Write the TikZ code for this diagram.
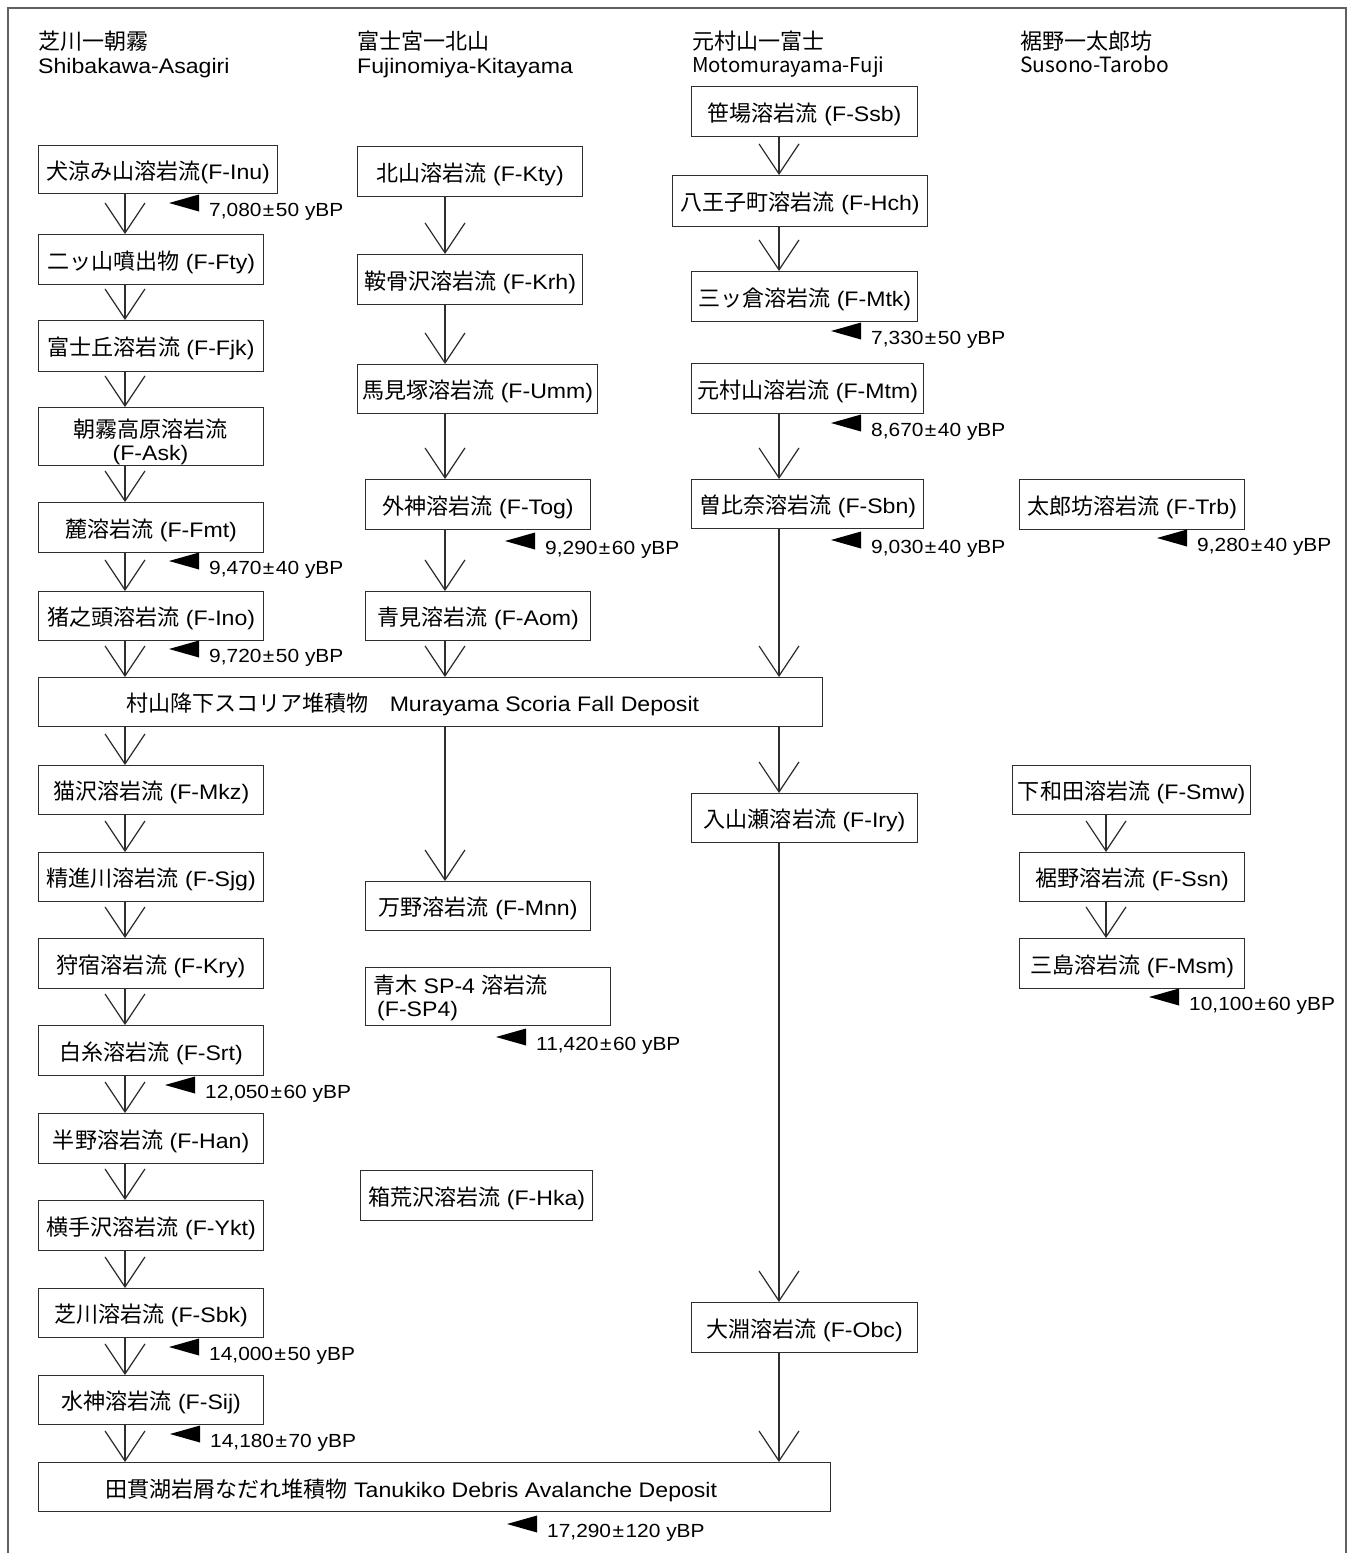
\documentclass[tikz,border=0pt]{standalone}
\usepackage{fontspec}
\setmainfont{Liberation Sans}[FakeStretch=1.1]
\newfontfamily\jp{Noto Sans CJK JP}[Scale=1.05]
\newfontfamily\jpl{Noto Sans CJK JP}
\usetikzlibrary{arrows.meta}
\newcommand\J[1]{{\jp #1}}
\newcommand\pmx{\kern1.5pt±\kern1.5pt}
\definecolor{linec}{HTML}{2E2E2E}
\definecolor{framec}{HTML}{606060}
\newcommand\dt[4]{%
  \node[dtxt] (#1) at (#2,#3) {#4};
  \fill[black] ([xshift=-40pt,yshift=6pt]#1.west) -- ++(30,-8.5) -- ++(0,17) -- cycle;}
\begin{document}
\begin{tikzpicture}[x=1pt,y=-1pt,
  boxbase/.style={draw=linec, line width=1.2pt, inner sep=0pt, anchor=north west,
    font=\fontsize{21}{23}\selectfont},
  bx/.style 2 args={boxbase, minimum width=#1, minimum height=#2, text height=19pt, text depth=0pt},
  bxtwo/.style 2 args={boxbase, minimum width=#1, minimum height=#2},
  lbl/.style={inner sep=0pt, anchor=west, font=\fontsize{21}{23}\selectfont, text height=19pt, text depth=0pt},
  mtxt/.style={inner sep=0pt, font=\fontsize{21}{23}\selectfont},
  hdr/.style={inner sep=0pt, anchor=west, font=\fontsize{21}{23}\selectfont, text height=19pt, text depth=0pt},
  dtxt/.style={inner sep=0pt, anchor=west, font=\fontsize{19}{21}\selectfont, text height=16pt, text depth=2pt},
  arr/.style={draw=linec, line width=1.2pt, -{Straight Barb[length=30pt,width=40pt,line width=1.2pt]}}
]
\useasboundingbox (0,0) rectangle (1352,1553);
\draw[framec, line width=1.5pt] (8,1553) -- (8,8) -- (1346,8) -- (1346,1553);

% column axes
\coordinate (c1) at (125,0);
\coordinate (c2) at (445,0);
\coordinate (c3) at (779,0);
\coordinate (c4) at (1106,0);

% headers
\node[hdr] (h1a) at (38,40) {\J{芝川一朝霧}};
\node[hdr] (h1b) at (38,64) {Shibakawa-Asagiri};
\node[hdr] (h2a) at (357,40) {\J{富士宮一北山}};
\node[hdr] (h2b) at (357,64) {Fujinomiya-Kitayama};
\node[hdr] (h3a) at (692,40) {\J{元村山一富士}};
\node[hdr, font=\fontsize{20.4}{23}\selectfont] (h3b) at (692,63) {\jpl Motomurayama-Fuji};
\node[hdr] (h4a) at (1020,40) {\J{裾野一太郎坊}};
\node[hdr] (h4b) at (1020,63) {\jpl Susono-Tarobo};

% column 1
\node[bx={239}{48}] (inu) at (38,145) {\J{犬涼み山溶岩流}(F-Inu)};
\node[bx={225}{50}] (fty) at (38,234) {\J{二ッ山噴出物} (F-Fty)};
\node[bx={225}{51}] (fjk) at (38,320) {\J{富士丘溶岩流} (F-Fjk)};
\node[bxtwo={225}{58}] (ask) at (38,407) {};
\node[mtxt, align=center] (askt) at (150.5,442) {\J{朝霧高原溶岩流}\\(F-Ask)};
\node[bx={225}{50}] (fmt) at (38,502) {\J{麓溶岩流} (F-Fmt)};
\node[bx={225}{49}] (ino) at (38,591) {\J{猪之頭溶岩流} (F-Ino)};
\node[bx={784}{49}] (mur) at (38,677) {};
\node[lbl] (murt) at (126,702) {\J{村山降下スコリア堆積物}\hspace{21pt}Murayama Scoria Fall Deposit};
\node[bx={225}{49}] (mkz) at (38,765) {\J{猫沢溶岩流} (F-Mkz)};
\node[bx={225}{49}] (sjg) at (38,852) {\J{精進川溶岩流} (F-Sjg)};
\node[bx={225}{50}] (kry) at (38,938) {\J{狩宿溶岩流} (F-Kry)};
\node[bx={225}{50}] (srt) at (38,1025) {\J{白糸溶岩流} (F-Srt)};
\node[bx={225}{50}] (han) at (38,1113) {\J{半野溶岩流} (F-Han)};
\node[bx={225}{50}] (ykt) at (38,1200) {\J{横手沢溶岩流} (F-Ykt)};
\node[bx={225}{49}] (sbk) at (38,1288) {\J{芝川溶岩流} (F-Sbk)};
\node[bx={225}{49}] (sij) at (38,1375) {\J{水神溶岩流} (F-Sij)};
\node[bx={792}{49}] (tan) at (38,1462) {};
\node[lbl] (tant) at (105,1488) {\J{田貫湖岩屑なだれ堆積物} Tanukiko Debris Avalanche Deposit};

% column 2
\node[bx={225}{50}] (kty) at (357,146) {\J{北山溶岩流} (F-Kty)};
\node[bx={225}{50}] (krh) at (357,254) {\J{鞍骨沢溶岩流} (F-Krh)};
\node[bx={240}{49}] (umm) at (357,364) {\J{馬見塚溶岩流} (F-Umm)};
\node[bx={225}{50}] (tog) at (365,479) {\J{外神溶岩流} (F-Tog)};
\node[bx={225}{49}] (aom) at (365,591) {\J{青見溶岩流} (F-Aom)};
\node[bx={225}{49}] (mnn) at (365,881) {\J{万野溶岩流} (F-Mnn)};
\node[bxtwo={245}{58}] (sp4) at (365,967) {};
\node[mtxt, align=left, anchor=west] (sp4t) at (373,998) {\J{青木} SP-4 \J{溶岩流}\\\hspace{4pt}(F-SP4)};
\node[bx={232}{50}] (hka) at (360,1170) {\J{箱荒沢溶岩流} (F-Hka)};

% column 3
\node[bx={226}{50}] (ssb) at (691,86) {\J{笹場溶岩流} (F-Ssb)};
\node[bx={255}{51}] (hch) at (672,175) {\J{八王子町溶岩流} (F-Hch)};
\node[bx={226}{50}] (mtk) at (691,271) {\J{三ッ倉溶岩流} (F-Mtk)};
\node[bx={232}{50}] (mtm) at (691,363) {\J{元村山溶岩流} (F-Mtm)};
\node[bx={232}{49}] (sbn) at (691,479) {\J{曽比奈溶岩流} (F-Sbn)};
\node[bx={226}{49}] (iry) at (691,793) {\J{入山瀬溶岩流} (F-Iry)};
\node[bx={226}{50}] (obc) at (691,1302) {\J{大淵溶岩流} (F-Obc)};

% column 4
\node[bx={225}{50}] (trb) at (1019,479) {\J{太郎坊溶岩流} (F-Trb)};
\node[bx={238}{49}] (smw) at (1012,765) {\J{下和田溶岩流} (F-Smw)};
\node[bx={225}{49}] (ssn) at (1019,852) {\J{裾野溶岩流} (F-Ssn)};
\node[bx={225}{50}] (msm) at (1019,938) {\J{三島溶岩流} (F-Msm)};

% arrows column 1
\foreach \a/\b in {inu/fty,fty/fjk,fjk/ask,ask/fmt,fmt/ino,ino/mur,mur/mkz,mkz/sjg,sjg/kry,kry/srt,srt/han,han/ykt,ykt/sbk,sbk/sij,sij/tan}
  \draw[arr] (\a.south -| c1) -- (\b.north -| c1);
% arrows column 2
\foreach \a/\b in {kty/krh,krh/umm,umm/tog,tog/aom,aom/mur,mur/mnn}
  \draw[arr] (\a.south -| c2) -- (\b.north -| c2);
% arrows column 3
\foreach \a/\b in {ssb/hch,hch/mtk,mtm/sbn,sbn/mur,mur/iry,iry/obc,obc/tan}
  \draw[arr] (\a.south -| c3) -- (\b.north -| c3);
% arrows column 4
\foreach \a/\b in {smw/ssn,ssn/msm}
  \draw[arr] (\a.south -| c4) -- (\b.north -| c4);

% dates
\dt{d1}{209}{209}{7,080\pmx50 yBP}
\dt{d2}{209}{567}{9,470\pmx40 yBP}
\dt{d3}{209}{655}{9,720\pmx50 yBP}
\dt{d4}{205}{1091}{12,050\pmx60 yBP}
\dt{d5}{209}{1353}{14,000\pmx50 yBP}
\dt{d6}{210}{1440}{14,180\pmx70 yBP}
\dt{d7}{545}{547}{9,290\pmx60 yBP}
\dt{d8}{536}{1043}{11,420\pmx60 yBP}
\dt{d9}{547}{1530}{17,290\pmx120 yBP}
\dt{d10}{871}{337}{7,330\pmx50 yBP}
\dt{d11}{871}{429}{8,670\pmx40 yBP}
\dt{d12}{871}{546}{9,030\pmx40 yBP}
\dt{d13}{1197}{544}{9,280\pmx40 yBP}
\dt{d14}{1189}{1003}{10,100\pmx60 yBP}
\end{tikzpicture}
\end{document}
